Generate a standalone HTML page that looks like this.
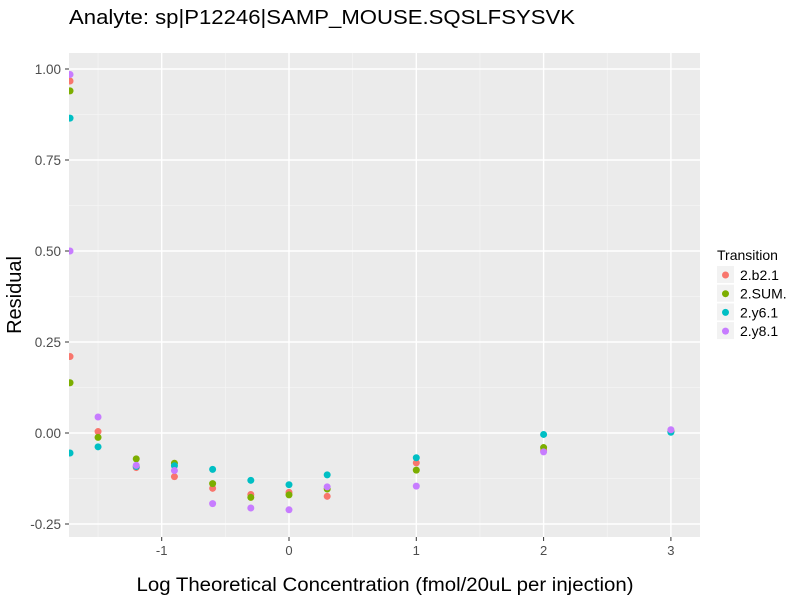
<!DOCTYPE html>
<html><head><meta charset="utf-8"><style>
body{margin:0;background:#fff;font-family:"Liberation Sans",sans-serif;}
svg text{font-family:"Liberation Sans",sans-serif;}
</style></head><body>
<svg id="chart" width="800" height="600" xmlns="http://www.w3.org/2000/svg">
<text x="69" y="24" font-size="20" fill="#000" textLength="506" lengthAdjust="spacingAndGlyphs">Analyte: sp|P12246|SAMP_MOUSE.SQSLFSYSVK</text>
<rect x="69" y="53" width="631" height="484" fill="#EBEBEB"/>
<g id="grid"></g>
<g id="axes"></g>
<g id="points" clip-path="url(#clip)"></g>
<defs><clipPath id="clip"><rect x="69" y="53" width="631" height="484"/></clipPath></defs>
<text x="385" y="591" font-size="19" text-anchor="middle" textLength="497" lengthAdjust="spacingAndGlyphs">Log Theoretical Concentration (fmol/20uL per injection)</text>
<text transform="translate(21,295) rotate(-90)" font-size="20" text-anchor="middle">Residual</text>
<g id="legend">
<text x="717" y="260" font-size="14">Transition</text>
</g>
</svg>
<script>
const xValues=[-1.72,-1.72,-1.5,-1.2,-0.9,-0.6,-0.3,0,0.3,1,2,3];
const seriesNames=["2.b2.1","2.SUM.","2.y6.1","2.y8.1"];
const seriesColors=["#F8766D","#7CAE00","#00BFC4","#C77CFF"];
const b21=[0.967,0.21,0.004,-0.095,-0.12,-0.152,-0.169,-0.163,-0.174,-0.082,-0.048,0.005];
const sum=[0.94,0.138,-0.012,-0.071,-0.083,-0.139,-0.177,-0.17,-0.154,-0.102,-0.04,0.004];
const y61=[0.865,-0.055,-0.038,-0.092,-0.09,-0.1,-0.13,-0.142,-0.115,-0.068,-0.004,0.002];
const y81=[0.985,0.5,0.044,-0.089,-0.103,-0.194,-0.206,-0.211,-0.148,-0.146,-0.052,0.009];
const xTicks=[-1,0,1,2,3];
const xMinor=[-1.5,-0.5,0.5,1.5,2.5];
const yTicks=[-0.25,0,0.25,0.5,0.75,1];
const yTickLabels=["-0.25","0.00","0.25","0.50","0.75","1.00"];
const yMinor=[-0.125,0.125,0.375,0.625,0.875];
const series=[b21,sum,y61,y81];
const NS="http://www.w3.org/2000/svg";
const X=v=>289+(v)*127.3;
const Y=v=>433-v*364;
function mk(tag,attrs,parent){const e=document.createElementNS(NS,tag);for(const k in attrs)e.setAttribute(k,attrs[k]);parent.appendChild(e);return e;}
const grid=document.getElementById('grid'),axes=document.getElementById('axes'),pts=document.getElementById('points'),leg=document.getElementById('legend');
xMinor.forEach(v=>{const l=mk('line',{x1:X(v),x2:X(v),y1:53,y2:537,stroke:'#F5F5F5','stroke-width':0.7},grid);

});
yMinor.forEach(v=>{const l=mk('line',{x1:69,x2:700,y1:Y(v),y2:Y(v),stroke:'#F5F5F5','stroke-width':0.7},grid);

});
xTicks.forEach(v=>{const l=mk('line',{x1:X(v),x2:X(v),y1:53,y2:537,stroke:'#fff','stroke-width':1.4},grid);


mk('line',{x1:X(v),x2:X(v),y1:537,y2:541,stroke:'#333','stroke-width':1},axes);
const t=mk('text',{x:X(v),y:555,'font-size':13,fill:'#4D4D4D','text-anchor':'middle'},axes);t.textContent=v;

});
yTicks.forEach((v,i)=>{const l=mk('line',{x1:69,x2:700,y1:Y(v),y2:Y(v),stroke:'#fff','stroke-width':1.4},grid);


mk('line',{x1:65,x2:69,y1:Y(v),y2:Y(v),stroke:'#333','stroke-width':1},axes);
const t=mk('text',{x:61,y:Y(v)+5,'font-size':13.5,fill:'#4D4D4D','text-anchor':'end'},axes);t.textContent=yTickLabels[i];

});
series.forEach((s,si)=>{s.forEach((v,i)=>{const c=mk('circle',{cx:X(xValues[i]),cy:Y(v),r:3.5,fill:seriesColors[si]},pts);

});
const y=275+si*18.7;
mk('rect',{x:717,y:y-9,width:17,height:17,fill:'#F2F2F2'},leg);
const c=mk('circle',{cx:725.5,cy:y,r:3.5,fill:seriesColors[si]},leg);


const t=mk('text',{x:740,y:y+5,'font-size':14,fill:'#000'},leg);t.textContent=seriesNames[si];

});
</script>
</body></html>
